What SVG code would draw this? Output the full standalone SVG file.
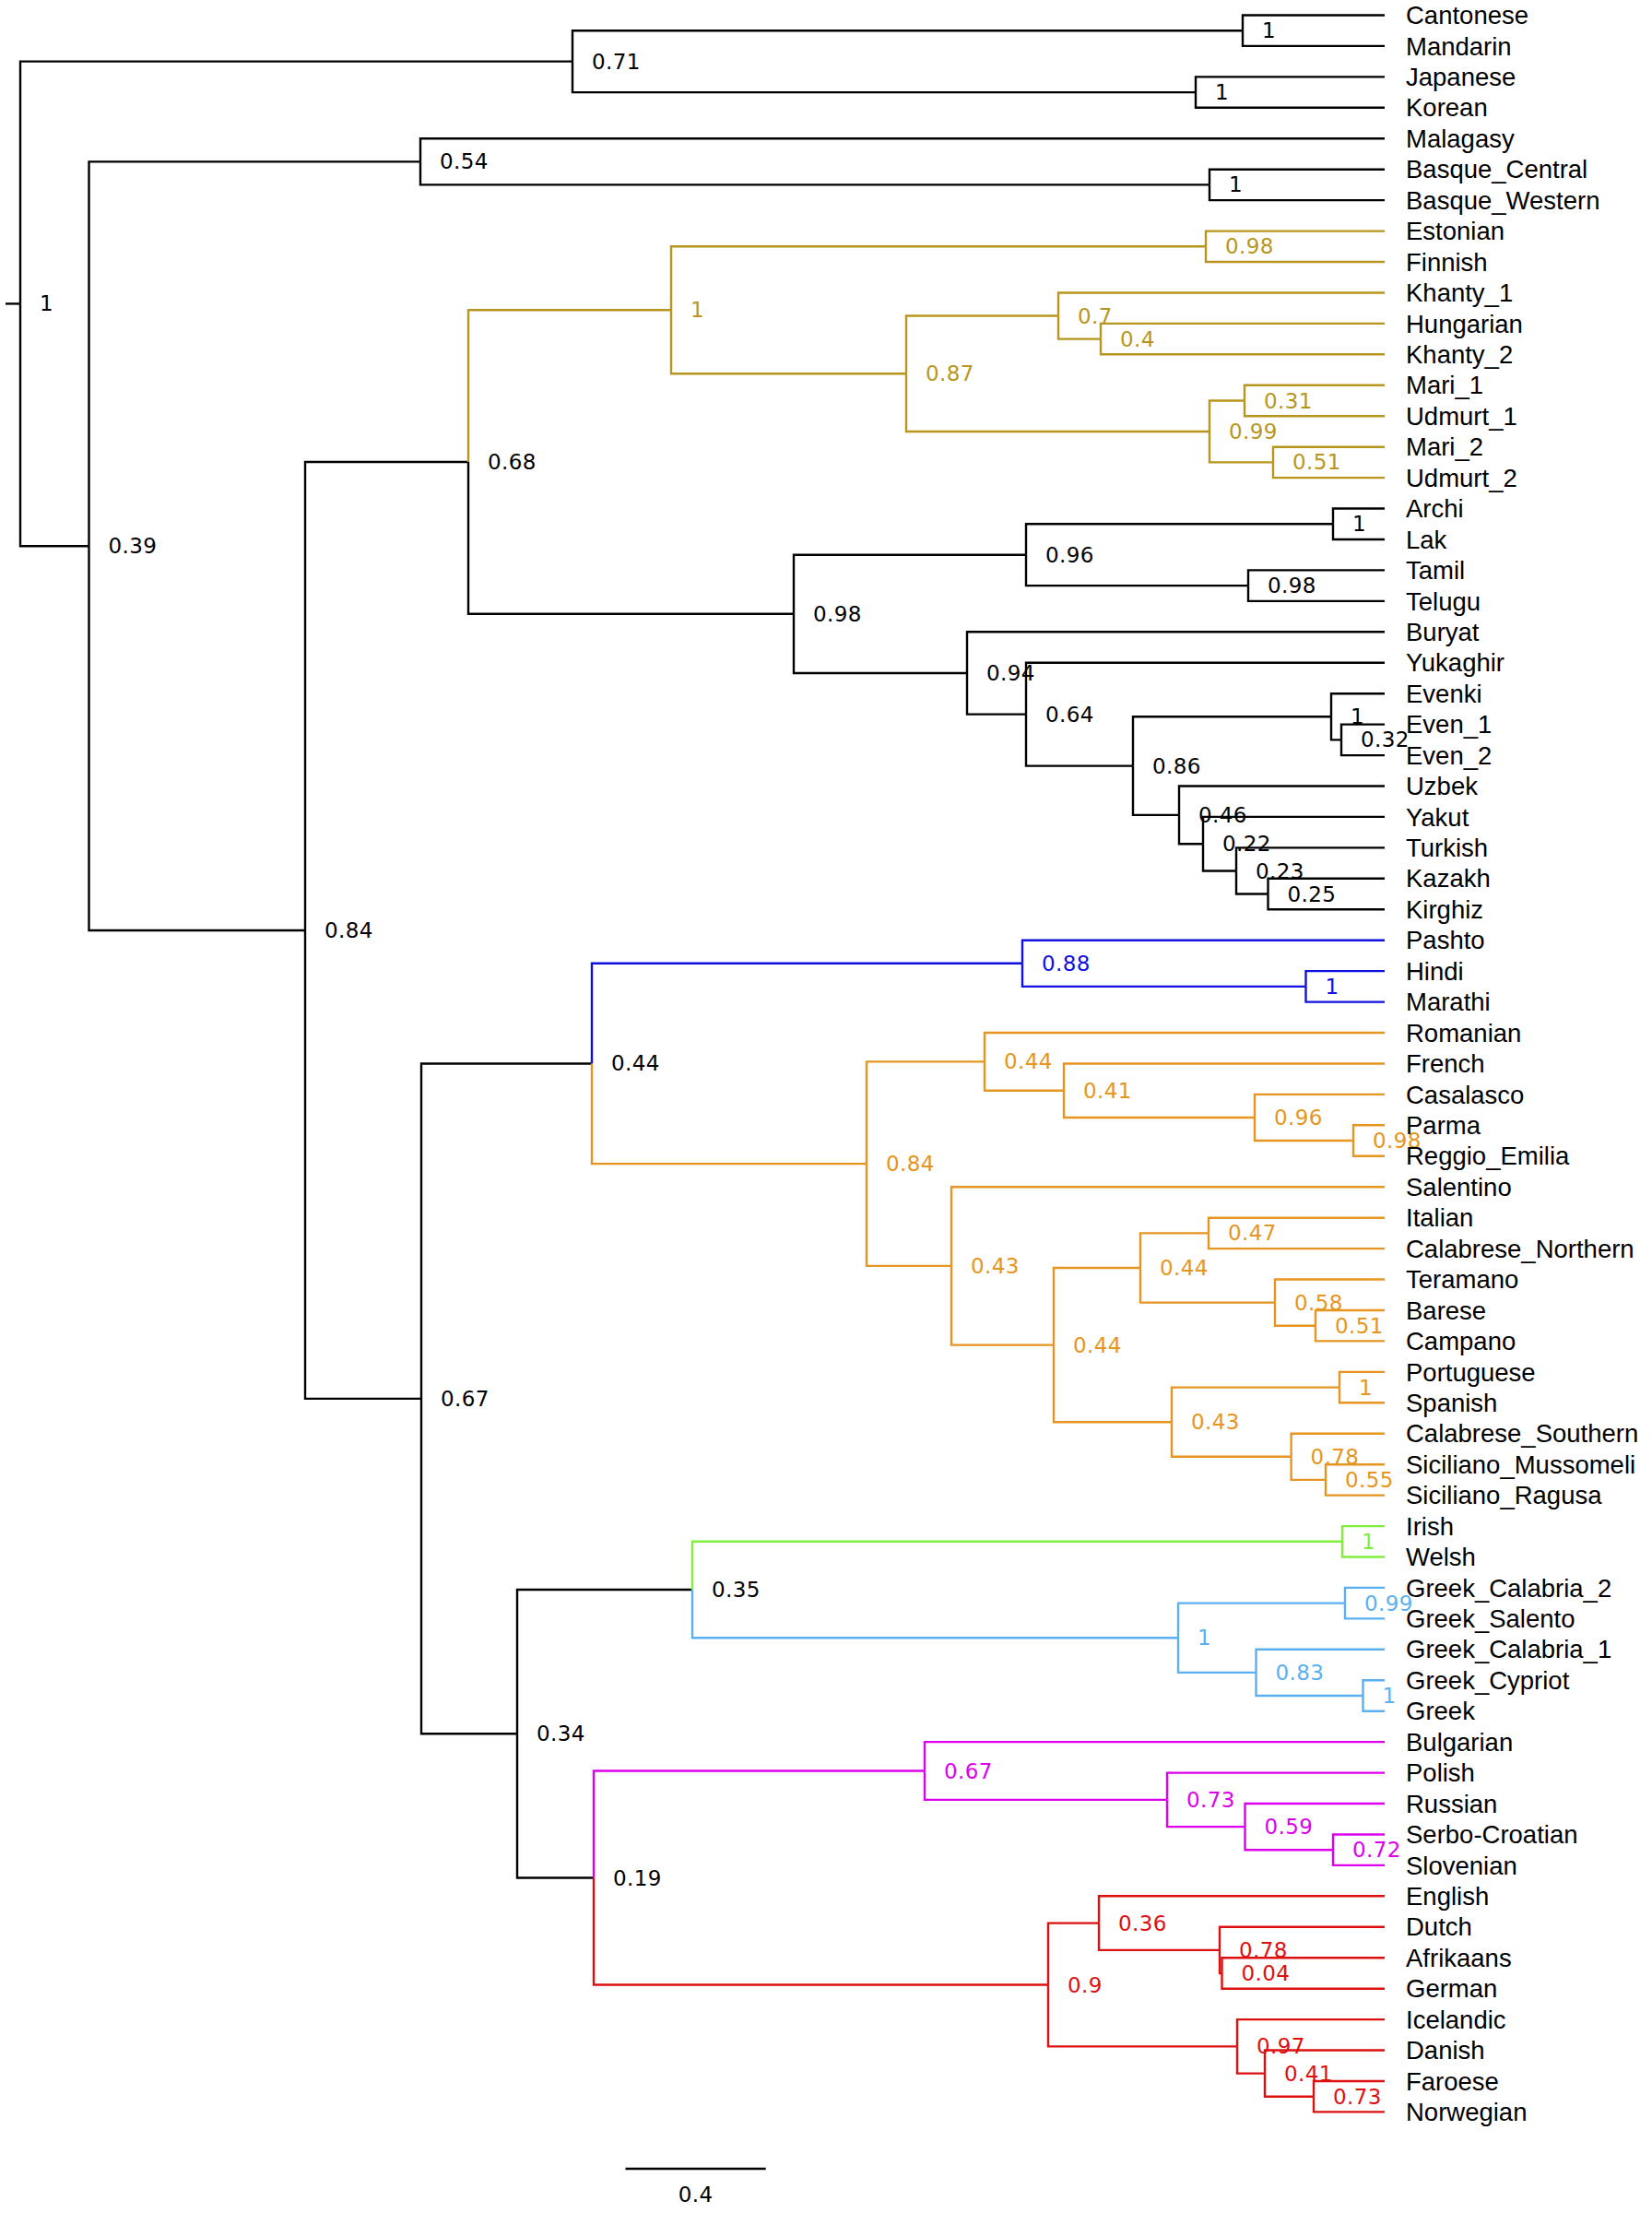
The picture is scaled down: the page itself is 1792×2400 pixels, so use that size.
<svg xmlns="http://www.w3.org/2000/svg" width="1792" height="2400" viewBox="0 0 1792 2400">
<style>
.e{fill:none;stroke:#000;stroke-width:2.4;stroke-linejoin:miter}
.y{stroke:#B8961E}.b{stroke:#1010E0}.o{stroke:#E69520}.g{stroke:#82EE3C}.lb{stroke:#5AB0F0}.m{stroke:#DD00EE}.r{stroke:#DD1010}
.nl{font-family:"DejaVu Sans",sans-serif;font-size:23px;letter-spacing:0.4px;fill:#000}
.ll{font-family:"Liberation Sans",Arial,Helvetica,sans-serif;font-size:27.5px;fill:#000}
.ty{fill:#B8961E}.tb{fill:#1010E0}.to{fill:#E69520}.tg{fill:#82EE3C}.tlb{fill:#5AB0F0}.tm{fill:#DD00EE}.tr{fill:#DD1010}
</style>
<rect width="1792" height="2400" fill="#fff"/>
<g id="connectors">
<g class="e">
<path d="M6 329.4H22"/>
<path d="M22 329.4V66.65H621"/><path d="M22 329.4V592.2H96.5"/>
<path d="M621 66.65V33.2H1348"/><path d="M621 66.65V100.1H1297"/>
<path d="M1348 33.2V16.5H1502"/><path d="M1348 33.2V49.9H1502"/>
<path d="M1297 100.1V83.4H1502"/><path d="M1297 100.1V116.8H1502"/>
<path d="M96.5 592.2V175.35H456"/><path d="M96.5 592.2V1009H331"/>
<path d="M456 175.35V150.3H1502"/><path d="M456 175.35V200.4H1312"/>
<path d="M1312 200.4V183.7H1502"/><path d="M1312 200.4V217.1H1502"/>
<path d="M331 1009V501.05H508"/><path d="M331 1009V1516.9H457"/>
<path d="M508 501.05V665.8H861"/>
<path d="M861 665.8V601.7H1113"/><path d="M861 665.8V729.95H1049"/>
<path d="M1113 601.7V568.25H1446"/><path d="M1113 601.7V635.15H1354"/>
<path d="M1446 568.25V551.5H1502"/><path d="M1446 568.25V585H1502"/>
<path d="M1354 635.15V618.4H1502"/><path d="M1354 635.15V651.9H1502"/>
<path d="M1049 729.95V685.3H1502"/><path d="M1049 729.95V774.65H1113"/>
<path d="M1113 774.65V718.7H1502"/><path d="M1113 774.65V830.6H1229"/>
<path d="M1229 830.6V777.3H1444"/><path d="M1229 830.6V883.85H1279"/>
<path d="M1444 777.3V752.2H1502"/><path d="M1444 777.3V802.35H1455"/>
<path d="M1455 802.35V785.6H1502"/><path d="M1455 802.35V819.1H1502"/>
<path d="M1279 883.85V852.5H1502"/><path d="M1279 883.85V915.2H1305"/>
<path d="M1305 915.2V885.9H1502"/><path d="M1305 915.2V944.5H1341"/>
<path d="M1341 944.5V919.4H1502"/><path d="M1341 944.5V969.55H1375.5"/>
<path d="M1375.5 969.55V952.8H1502"/><path d="M1375.5 969.55V986.3H1502"/>
<path d="M457 1516.9V1153.45H642"/><path d="M457 1516.9V1880.3H561"/>
<path d="M561 1880.3V1724.05H751"/><path d="M561 1880.3V2036.5H644"/>
<path d="M678.5 2352H830.7"/>
</g>
<g class="e y">
<path d="M508 501.05V336.3H728"/>
<path d="M728 336.3V267.3H1308"/><path d="M728 336.3V405.25H983"/>
<path d="M1308 267.3V250.6H1502"/><path d="M1308 267.3V284H1502"/>
<path d="M983 405.25V342.55H1148"/><path d="M983 405.25V467.95H1312"/>
<path d="M1148 342.55V317.5H1502"/><path d="M1148 342.55V367.6H1194"/>
<path d="M1194 367.6V350.9H1502"/><path d="M1194 367.6V384.3H1502"/>
<path d="M1312 467.95V434.5H1350"/><path d="M1312 467.95V501.4H1381"/>
<path d="M1350 434.5V417.8H1502"/><path d="M1350 434.5V451.2H1502"/>
<path d="M1381 501.4V484.7H1502"/><path d="M1381 501.4V518.1H1502"/>
</g>
<g class="e b">
<path d="M642 1153.45V1044.8H1109"/>
<path d="M1109 1044.8V1019.7H1502"/><path d="M1109 1044.8V1069.85H1416.5"/>
<path d="M1416.5 1069.85V1053.1H1502"/><path d="M1416.5 1069.85V1086.6H1502"/>
</g>
<g class="e o">
<path d="M642 1153.45V1262.1H940"/>
<path d="M940 1262.1V1151.35H1068"/><path d="M940 1262.1V1372.9H1032"/>
<path d="M1068 1151.35V1120H1502"/><path d="M1068 1151.35V1182.7H1154"/>
<path d="M1154 1182.7V1153.5H1502"/><path d="M1154 1182.7V1211.98H1361"/>
<path d="M1361 1211.98V1186.9H1502"/><path d="M1361 1211.98V1237.05H1468"/>
<path d="M1468 1237.05V1220.3H1502"/><path d="M1468 1237.05V1253.8H1502"/>
<path d="M1032 1372.9V1287.2H1502"/><path d="M1032 1372.9V1458.6H1143"/>
<path d="M1143 1458.6V1375H1237"/><path d="M1143 1458.6V1542.2H1271"/>
<path d="M1237 1375V1337.4H1311"/><path d="M1237 1375V1412.6H1383"/>
<path d="M1311 1337.4V1320.7H1502"/><path d="M1311 1337.4V1354.1H1502"/>
<path d="M1383 1412.6V1387.5H1502"/><path d="M1383 1412.6V1437.7H1427"/>
<path d="M1427 1437.7V1421H1502"/><path d="M1427 1437.7V1454.4H1502"/>
<path d="M1271 1542.2V1504.6H1453"/><path d="M1271 1542.2V1579.8H1400.6"/>
<path d="M1453 1504.6V1487.9H1502"/><path d="M1453 1504.6V1521.3H1502"/>
<path d="M1400.6 1579.8V1554.7H1502"/><path d="M1400.6 1579.8V1604.9H1438"/>
<path d="M1438 1604.9V1588.2H1502"/><path d="M1438 1604.9V1621.6H1502"/>
</g>
<g class="e g">
<path d="M751 1724.05V1671.8H1456"/>
<path d="M1456 1671.8V1655.1H1502"/><path d="M1456 1671.8V1688.5H1502"/>
</g>
<g class="e lb">
<path d="M751 1724.05V1776.3H1278"/>
<path d="M1278 1776.3V1738.65H1459"/><path d="M1278 1776.3V1813.9H1362.5"/>
<path d="M1459 1738.65V1721.9H1502"/><path d="M1459 1738.65V1755.4H1502"/>
<path d="M1362.5 1813.9V1788.8H1502"/><path d="M1362.5 1813.9V1839H1478.5"/>
<path d="M1478.5 1839V1822.3H1502"/><path d="M1478.5 1839V1855.7H1502"/>
</g>
<g class="e m">
<path d="M644 2036.5V1920.5H1003"/>
<path d="M1003 1920.5V1889.1H1502"/><path d="M1003 1920.5V1951.85H1266"/>
<path d="M1266 1951.85V1922.6H1502"/><path d="M1266 1951.85V1981.1H1350.5"/>
<path d="M1350.5 1981.1V1956H1502"/><path d="M1350.5 1981.1V2006.2H1446"/>
<path d="M1446 2006.2V1989.5H1502"/><path d="M1446 2006.2V2022.9H1502"/>
</g>
<g class="e r">
<path d="M644 2036.5V2152.5H1137"/>
<path d="M1137 2152.5V2085.6H1192"/><path d="M1137 2152.5V2219.35H1342"/>
<path d="M1192 2085.6V2056.3H1502"/><path d="M1192 2085.6V2114.9H1323"/>
<path d="M1323 2114.9V2089.8H1502"/><path d="M1323 2114.9V2139.95H1325.5"/>
<path d="M1325.5 2139.95V2123.2H1502"/><path d="M1325.5 2139.95V2156.7H1502"/>
<path d="M1342 2219.35V2190.1H1502"/><path d="M1342 2219.35V2248.6H1372"/>
<path d="M1372 2248.6V2223.5H1502"/><path d="M1372 2248.6V2273.7H1425"/>
<path d="M1425 2273.7V2257H1502"/><path d="M1425 2273.7V2290.4H1502"/>
</g>
</g>
<g id="internal-nodes" class="nl">
<g id="n-root"><text x="43" y="337.4">1</text></g>
<g id="n-071"><text x="642" y="74.65">0.71</text></g>
<g id="n-cm"><text x="1369" y="41.2">1</text></g>
<g id="n-jk"><text x="1318" y="108.1">1</text></g>
<g id="n-054"><text x="477" y="183.35">0.54</text></g>
<g id="n-bq"><text x="1333" y="208.4">1</text></g>
<g id="n-039"><text x="117.5" y="600.2">0.39</text></g>
<g id="n-084"><text x="352" y="1017">0.84</text></g>
<g id="n-068"><text x="529" y="509.05">0.68</text></g>
<g id="n-uralic"><text class="ty" x="749" y="344.3">1</text></g>
<g id="n-ef"><text class="ty" x="1329" y="275.3">0.98</text></g>
<g id="n-087"><text class="ty" x="1004" y="413.25">0.87</text></g>
<g id="n-07"><text class="ty" x="1169" y="350.55">0.7</text></g>
<g id="n-04"><text class="ty" x="1215" y="375.6">0.4</text></g>
<g id="n-099"><text class="ty" x="1333" y="475.95">0.99</text></g>
<g id="n-031"><text class="ty" x="1371" y="442.5">0.31</text></g>
<g id="n-051"><text class="ty" x="1402" y="509.4">0.51</text></g>
<g id="n-098"><text x="882" y="673.8">0.98</text></g>
<g id="n-096"><text x="1134" y="609.7">0.96</text></g>
<g id="n-al"><text x="1467" y="576.25">1</text></g>
<g id="n-tt"><text x="1375" y="643.15">0.98</text></g>
<g id="n-094"><text x="1070" y="737.95">0.94</text></g>
<g id="n-064"><text x="1134" y="782.65">0.64</text></g>
<g id="n-ev1"><text x="1465" y="785.3">1</text></g>
<g id="n-ev032"><text x="1476" y="810.35">0.32</text></g>
<g id="n-086"><text x="1250" y="838.6">0.86</text></g>
<g id="n-046"><text x="1300" y="891.85">0.46</text></g>
<g id="n-022"><text x="1326" y="923.2">0.22</text></g>
<g id="n-023"><text x="1362" y="952.5">0.23</text></g>
<g id="n-025"><text x="1396.5" y="977.55">0.25</text></g>
<g id="n-067"><text x="478" y="1524.9">0.67</text></g>
<g id="n-044"><text x="663" y="1161.45">0.44</text></g>
<g id="n-088"><text class="tb" x="1130" y="1052.8">0.88</text></g>
<g id="n-hm"><text class="tb" x="1437.5" y="1077.85">1</text></g>
<g id="n-romance"><text class="to" x="961" y="1270.1">0.84</text></g>
<g id="n-044a"><text class="to" x="1089" y="1159.35">0.44</text></g>
<g id="n-041"><text class="to" x="1175" y="1190.7">0.41</text></g>
<g id="n-096b"><text class="to" x="1382" y="1219.98">0.96</text></g>
<g id="n-pr"><text class="to" x="1489" y="1245.05">0.98</text></g>
<g id="n-043"><text class="to" x="1053" y="1380.9">0.43</text></g>
<g id="n-044b"><text class="to" x="1164" y="1466.6">0.44</text></g>
<g id="n-044c"><text class="to" x="1258" y="1383">0.44</text></g>
<g id="n-047"><text class="to" x="1332" y="1345.4">0.47</text></g>
<g id="n-058"><text class="to" x="1404" y="1420.6">0.58</text></g>
<g id="n-051b"><text class="to" x="1448" y="1445.7">0.51</text></g>
<g id="n-043b"><text class="to" x="1292" y="1550.2">0.43</text></g>
<g id="n-ps"><text class="to" x="1474" y="1512.6">1</text></g>
<g id="n-078"><text class="to" x="1421.6" y="1587.8">0.78</text></g>
<g id="n-055"><text class="to" x="1459" y="1612.9">0.55</text></g>
<g id="n-034"><text x="582" y="1888.3">0.34</text></g>
<g id="n-035"><text x="772" y="1732.05">0.35</text></g>
<g id="n-iw"><text class="tg" x="1477" y="1679.8">1</text></g>
<g id="n-gk"><text class="tlb" x="1299" y="1784.3">1</text></g>
<g id="n-099b"><text class="tlb" x="1480" y="1746.65">0.99</text></g>
<g id="n-083"><text class="tlb" x="1383.5" y="1821.9">0.83</text></g>
<g id="n-gg"><text class="tlb" x="1499.5" y="1847">1</text></g>
<g id="n-019"><text x="665" y="2044.5">0.19</text></g>
<g id="n-067b"><text class="tm" x="1024" y="1928.5">0.67</text></g>
<g id="n-073"><text class="tm" x="1287" y="1959.85">0.73</text></g>
<g id="n-059"><text class="tm" x="1371.5" y="1989.1">0.59</text></g>
<g id="n-072"><text class="tm" x="1467" y="2014.2">0.72</text></g>
<g id="n-09"><text class="tr" x="1158" y="2160.5">0.9</text></g>
<g id="n-036"><text class="tr" x="1213" y="2093.6">0.36</text></g>
<g id="n-078b"><text class="tr" x="1344" y="2122.9">0.78</text></g>
<g id="n-004"><text class="tr" x="1346.5" y="2147.95">0.04</text></g>
<g id="n-097"><text class="tr" x="1363" y="2227.35">0.97</text></g>
<g id="n-041b"><text class="tr" x="1393" y="2256.6">0.41</text></g>
<g id="n-073b"><text class="tr" x="1446" y="2281.7">0.73</text></g>
<g id="scale-bar-label"><text x="754.6" y="2388" text-anchor="middle">0.4</text></g>
</g>
<g id="leaves" class="ll">
<g id="leaf-Cantonese"><text x="1525" y="26.1">Cantonese</text></g>
<g id="leaf-Mandarin"><text x="1525" y="59.5">Mandarin</text></g>
<g id="leaf-Japanese"><text x="1525" y="93">Japanese</text></g>
<g id="leaf-Korean"><text x="1525" y="126.4">Korean</text></g>
<g id="leaf-Malagasy"><text x="1525" y="159.9">Malagasy</text></g>
<g id="leaf-Basque_Central"><text x="1525" y="193.3">Basque_Central</text></g>
<g id="leaf-Basque_Western"><text x="1525" y="226.7">Basque_Western</text></g>
<g id="leaf-Estonian"><text x="1525" y="260.2">Estonian</text></g>
<g id="leaf-Finnish"><text x="1525" y="293.6">Finnish</text></g>
<g id="leaf-Khanty_1"><text x="1525" y="327.1">Khanty_1</text></g>
<g id="leaf-Hungarian"><text x="1525" y="360.5">Hungarian</text></g>
<g id="leaf-Khanty_2"><text x="1525" y="393.9">Khanty_2</text></g>
<g id="leaf-Mari_1"><text x="1525" y="427.4">Mari_1</text></g>
<g id="leaf-Udmurt_1"><text x="1525" y="460.8">Udmurt_1</text></g>
<g id="leaf-Mari_2"><text x="1525" y="494.3">Mari_2</text></g>
<g id="leaf-Udmurt_2"><text x="1525" y="527.7">Udmurt_2</text></g>
<g id="leaf-Archi"><text x="1525" y="561.1">Archi</text></g>
<g id="leaf-Lak"><text x="1525" y="594.6">Lak</text></g>
<g id="leaf-Tamil"><text x="1525" y="628">Tamil</text></g>
<g id="leaf-Telugu"><text x="1525" y="661.5">Telugu</text></g>
<g id="leaf-Buryat"><text x="1525" y="694.9">Buryat</text></g>
<g id="leaf-Yukaghir"><text x="1525" y="728.3">Yukaghir</text></g>
<g id="leaf-Evenki"><text x="1525" y="761.8">Evenki</text></g>
<g id="leaf-Even_1"><text x="1525" y="795.2">Even_1</text></g>
<g id="leaf-Even_2"><text x="1525" y="828.7">Even_2</text></g>
<g id="leaf-Uzbek"><text x="1525" y="862.1">Uzbek</text></g>
<g id="leaf-Yakut"><text x="1525" y="895.5">Yakut</text></g>
<g id="leaf-Turkish"><text x="1525" y="929">Turkish</text></g>
<g id="leaf-Kazakh"><text x="1525" y="962.4">Kazakh</text></g>
<g id="leaf-Kirghiz"><text x="1525" y="995.9">Kirghiz</text></g>
<g id="leaf-Pashto"><text x="1525" y="1029.3">Pashto</text></g>
<g id="leaf-Hindi"><text x="1525" y="1062.7">Hindi</text></g>
<g id="leaf-Marathi"><text x="1525" y="1096.2">Marathi</text></g>
<g id="leaf-Romanian"><text x="1525" y="1129.6">Romanian</text></g>
<g id="leaf-French"><text x="1525" y="1163.1">French</text></g>
<g id="leaf-Casalasco"><text x="1525" y="1196.5">Casalasco</text></g>
<g id="leaf-Parma"><text x="1525" y="1229.9">Parma</text></g>
<g id="leaf-Reggio_Emilia"><text x="1525" y="1263.4">Reggio_Emilia</text></g>
<g id="leaf-Salentino"><text x="1525" y="1296.8">Salentino</text></g>
<g id="leaf-Italian"><text x="1525" y="1330.3">Italian</text></g>
<g id="leaf-Calabrese_Northern"><text x="1525" y="1363.7">Calabrese_Northern</text></g>
<g id="leaf-Teramano"><text x="1525" y="1397.1">Teramano</text></g>
<g id="leaf-Barese"><text x="1525" y="1430.6">Barese</text></g>
<g id="leaf-Campano"><text x="1525" y="1464">Campano</text></g>
<g id="leaf-Portuguese"><text x="1525" y="1497.5">Portuguese</text></g>
<g id="leaf-Spanish"><text x="1525" y="1530.9">Spanish</text></g>
<g id="leaf-Calabrese_Southern"><text x="1525" y="1564.3">Calabrese_Southern</text></g>
<g id="leaf-Siciliano_Mussomeli"><text x="1525" y="1597.8">Siciliano_Mussomeli</text></g>
<g id="leaf-Siciliano_Ragusa"><text x="1525" y="1631.2">Siciliano_Ragusa</text></g>
<g id="leaf-Irish"><text x="1525" y="1664.7">Irish</text></g>
<g id="leaf-Welsh"><text x="1525" y="1698.1">Welsh</text></g>
<g id="leaf-Greek_Calabria_2"><text x="1525" y="1731.5">Greek_Calabria_2</text></g>
<g id="leaf-Greek_Salento"><text x="1525" y="1765">Greek_Salento</text></g>
<g id="leaf-Greek_Calabria_1"><text x="1525" y="1798.4">Greek_Calabria_1</text></g>
<g id="leaf-Greek_Cypriot"><text x="1525" y="1831.9">Greek_Cypriot</text></g>
<g id="leaf-Greek"><text x="1525" y="1865.3">Greek</text></g>
<g id="leaf-Bulgarian"><text x="1525" y="1898.7">Bulgarian</text></g>
<g id="leaf-Polish"><text x="1525" y="1932.2">Polish</text></g>
<g id="leaf-Russian"><text x="1525" y="1965.6">Russian</text></g>
<g id="leaf-Serbo-Croatian"><text x="1525" y="1999.1">Serbo-Croatian</text></g>
<g id="leaf-Slovenian"><text x="1525" y="2032.5">Slovenian</text></g>
<g id="leaf-English"><text x="1525" y="2065.9">English</text></g>
<g id="leaf-Dutch"><text x="1525" y="2099.4">Dutch</text></g>
<g id="leaf-Afrikaans"><text x="1525" y="2132.8">Afrikaans</text></g>
<g id="leaf-German"><text x="1525" y="2166.3">German</text></g>
<g id="leaf-Icelandic"><text x="1525" y="2199.7">Icelandic</text></g>
<g id="leaf-Danish"><text x="1525" y="2233.1">Danish</text></g>
<g id="leaf-Faroese"><text x="1525" y="2266.6">Faroese</text></g>
<g id="leaf-Norwegian"><text x="1525" y="2300">Norwegian</text></g>
</g>
</svg>
